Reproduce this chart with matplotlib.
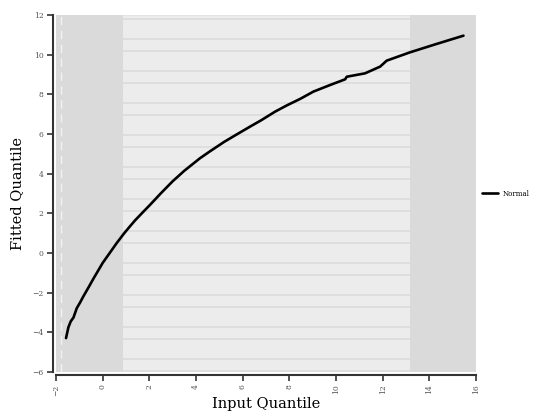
import numpy as np
import matplotlib
matplotlib.use("Agg")
import matplotlib.pyplot as plt

# input quantile vs fitted quantile
input_q = [-1.57, -1.47, -1.37, -1.25, -1.11, -0.97, -0.83, -0.6, -0.4, -0.2, 0.0,
           0.3, 0.6, 0.89, 1.1, 1.39, 1.7, 2.03, 2.5, 3.0, 3.5, 4.17, 4.6,
           5.2, 5.7, 6.31, 6.8, 7.39, 7.9, 8.46,
           9.03, 9.74, 10.39, 10.46, 11.24, 11.89, 12.17, 13.17, 14.3, 15.46]
fitted_q = [-4.29, -3.75, -3.45, -3.25, -2.78, -2.5, -2.19, -1.72, -1.3, -0.9, -0.5,
            0.0, 0.5, 0.95, 1.25, 1.65, 2.03, 2.43, 3.02, 3.62, 4.15, 4.78, 5.13,
            5.6, 5.95, 6.37, 6.7, 7.13, 7.45, 7.77,
            8.14, 8.47, 8.76, 8.89, 9.06, 9.40, 9.70, 10.12, 10.54, 10.96]
series_name = "Normal"

x_ticks = list(range(-2, 17, 2))
y_ticks = list(range(-6, 13, 2))
band_lo, band_hi = 0.87, 13.17

fig = plt.figure(figsize=(5.41, 4.12), dpi=100)
ax = fig.add_axes([0.1035, 0.097, 0.7765, 0.8665])
ax.set_xlim(-2, 16)
ax.set_ylim(-6, 12)
ax.set_facecolor("#ececec")

# darker outer bands
ax.axvspan(-2, band_lo, color="#dadada", lw=0, zorder=0)
ax.axvspan(band_hi, 16, color="#dadada", lw=0, zorder=0)
ax.axvline(-1.79, color="#f2f2f2", lw=1, ls=(0, (6, 4)), zorder=1)

# stripe lines in the middle band
stripes = np.concatenate([np.arange(11.80, -6, -1.612), np.arange(10.79, -6, -1.612)])
ax.hlines(stripes, band_lo, band_hi, colors="#dcdcdc", lw=1.2, zorder=1)
ax.hlines([12], band_lo, band_hi, colors="#e2e2e2", lw=1.2, zorder=1)

ax.plot(input_q, fitted_q, color="black", lw=1.9, solid_capstyle="round",
        solid_joinstyle="round", label=series_name, zorder=3)

for s in ["top", "right"]:
    ax.spines[s].set_visible(False)
for s in ["left", "bottom"]:
    ax.spines[s].set_color("#333333")
    ax.spines[s].set_linewidth(1.5)
    ax.spines[s].set_position(("outward", 2))

ax.set_xticks(x_ticks)
ax.set_yticks(y_ticks)
ax.set_xticklabels([str(v).replace("-", "\u2212") for v in x_ticks], rotation=90,
                   fontsize=5.5, family="DejaVu Serif", color="#555555")
ax.set_yticklabels([str(v).replace("-", "\u2212") for v in y_ticks],
                   fontsize=5.5, family="DejaVu Serif", color="#555555")
ax.tick_params(axis="both", length=4, width=1.2, color="#333333", pad=3)

ax.set_xlabel("Input Quantile", fontsize=10.5, family="DejaVu Serif", labelpad=1)
ax.set_ylabel("Fitted Quantile", fontsize=10.5, family="DejaVu Serif", labelpad=6)

leg = ax.legend(loc="center left", bbox_to_anchor=(1.0, 0.5), frameon=False,
                prop={"family": "DejaVu Serif", "size": 5}, handlelength=2.2)

fig.savefig("out.png", dpi=100)
